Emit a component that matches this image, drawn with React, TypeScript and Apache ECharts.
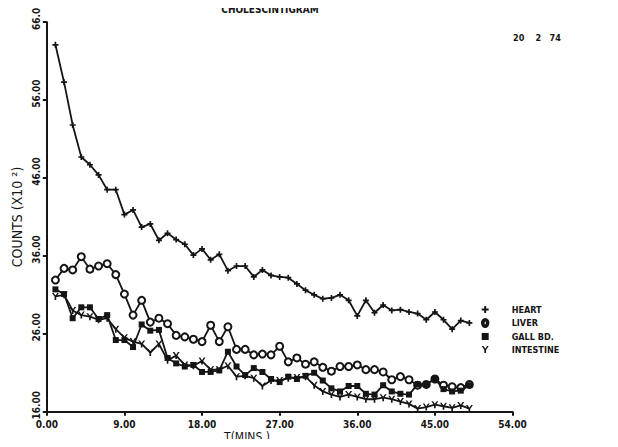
import React, { useEffect, useRef } from "react";
import * as echarts from "echarts";

const times = [1, 2, 3, 4, 5, 6, 7, 8, 9, 10, 11, 12, 13, 14, 15, 16, 17, 18, 19, 20, 21, 22, 23, 24, 25, 26, 27, 28, 29, 30, 31, 32, 33, 34, 35, 36, 37, 38, 39, 40, 41, 42, 43, 44, 45, 46, 47, 48, 49];

const heart = [63.1, 58.3, 52.8, 48.7, 47.7, 46.4, 44.5, 44.5, 41.3, 41.9, 39.7, 40.1, 38.0, 38.9, 38.1, 37.5, 36.1, 36.9, 35.5, 36.2, 34.1, 34.7, 34.7, 33.3, 34.2, 33.5, 33.3, 33.2, 32.4, 31.6, 31.0, 30.5, 30.6, 31.0, 30.3, 28.3, 30.3, 28.7, 29.7, 29.0, 29.1, 28.8, 28.6, 27.8, 28.8, 27.8, 26.6, 27.7, 27.4];

const liver = [32.9, 34.4, 34.2, 35.9, 34.3, 34.7, 35.0, 33.6, 31.1, 28.4, 30.3, 27.5, 28.0, 27.3, 25.8, 25.6, 25.3, 25.0, 27.1, 25.0, 26.9, 24.0, 24.0, 23.3, 23.4, 23.3, 24.4, 22.4, 22.9, 22.1, 22.4, 21.7, 21.2, 21.8, 21.8, 22.0, 21.4, 21.4, 21.1, 20.1, 20.5, 20.1, 19.4, 19.5, 20.2, 19.4, 19.2, 19.1, 19.5];

const gall = [31.7, 31.1, 28.0, 29.4, 29.4, 27.9, 28.4, 25.2, 25.2, 24.3, 27.2, 26.4, 26.5, 22.9, 22.2, 21.8, 22.0, 21.1, 21.1, 21.3, 23.7, 21.8, 20.7, 21.6, 21.1, 20.2, 19.8, 20.5, 20.2, 20.6, 21.0, 20.0, 19.0, 18.6, 19.3, 19.3, 18.3, 18.2, 19.4, 18.6, 18.3, 18.2, 19.5, 19.5, 20.2, 18.9, 18.6, 18.7, 19.4];

const intestine = [30.8, 31.0, 29.0, 28.4, 28.2, 27.8, 28.0, 26.6, 25.5, 25.0, 24.7, 23.6, 24.7, 22.6, 23.2, 22.0, 21.9, 22.5, 21.4, 21.4, 21.9, 20.5, 20.6, 20.3, 19.3, 20.0, 20.0, 20.3, 20.4, 20.5, 19.4, 18.6, 18.2, 17.9, 18.2, 17.9, 17.6, 17.6, 17.8, 17.6, 17.3, 17.0, 16.4, 16.6, 16.9, 16.7, 16.5, 16.8, 16.4];

const seriesNames = ["HEART", "LIVER", "GALL BD.", "INTESTINE"];
const yTicks = { min: 16, max: 66, step: 10 };
const xTicks = { min: 0, max: 54, step: 9 };

const INK = "#151515";
const FONT = "'Liberation Sans Narrow', 'DejaVu Sans Condensed', 'Liberation Sans', sans-serif";

const PLUS = "path://M3.6,0 H6.4 V3.6 H10 V6.4 H6.4 V10 H3.6 V6.4 H0 V3.6 H3.6 Z";
const YSYM = "path://M0,0 L2.4,0 L5,3.8 L7.6,0 L10,0 L6.2,5.6 L6.2,10 L3.8,10 L3.8,5.6 Z";
const OSYM = "path://M4,0 A4,5 0 1,1 4,10 A4,5 0 1,1 4,0 Z M4,2 A2,3 0 1,0 4,8 A2,3 0 1,0 4,2 Z";
const SQ = "path://M0,0 H10 V10 H0 Z";

export default function App() {
  const ref = useRef<HTMLDivElement>(null);
  useEffect(() => {
    if (!ref.current) return;
    const chart = echarts.init(ref.current, undefined, { renderer: "svg" });
    const pairs = (vals: number[]) => times.map((t, i) => [t, vals[i]]);
    const lineStyle = { color: INK, width: 1.8 };
    const base = { type: "line", lineStyle, itemStyle: { color: INK }, z: 3 };
    chart.setOption({
      animation: false,
      backgroundColor: "#ffffff",
      textStyle: { fontFamily: FONT, color: INK },
      grid: { left: 46.8, right: 105.5, top: 22.2, bottom: 35.3, containLabel: false, outerBoundsMode: "none" },
      xAxis: {
        type: "value",
        min: xTicks.min,
        max: xTicks.max,
        interval: xTicks.step,
        axisLine: { show: true, lineStyle: { color: INK, width: 2 } },
        axisTick: { show: true, length: 4, lineStyle: { color: INK, width: 2 } },
        splitLine: { show: false },
        axisLabel: {
          formatter: (v: number) => v.toFixed(2),
          fontSize: 10,
          fontWeight: "bold",
          fontFamily: FONT,
          color: INK,
          margin: 8,
          showMinLabel: true,
          showMaxLabel: true,
        },
      },
      yAxis: {
        type: "value",
        min: yTicks.min,
        max: yTicks.max,
        interval: yTicks.step,
        axisLine: { show: true, lineStyle: { color: INK, width: 2 } },
        axisTick: { show: true, length: 4, lineStyle: { color: INK, width: 2 } },
        splitLine: { show: false },
        axisLabel: {
          formatter: (v: number) => v.toFixed(2),
          rotate: 90,
          fontSize: 10,
          fontWeight: "bold",
          fontFamily: FONT,
          color: INK,
          margin: 5,
          align: "center",
          padding: [0, 0, 0, 13],
          showMinLabel: true,
          showMaxLabel: true,
        },
        name: "COUNTS (X10 \u00B2)",
        nameLocation: "middle",
        nameRotate: 90,
        nameGap: 22,
        nameTextStyle: {
          fontSize: 14,
          fontFamily: FONT,
          color: INK,
        },
      },
      legend: {
        orient: "vertical",
        left: 476,
        top: 300,
        itemGap: 4,
        itemWidth: 7,
        itemHeight: 8,
        selectedMode: false,
        textStyle: { fontSize: 9, fontWeight: "bold", fontFamily: FONT, color: INK, padding: [0, 0, 0, 18] },
        data: [
          { name: seriesNames[0], icon: PLUS },
          { name: seriesNames[1], icon: OSYM },
          { name: seriesNames[2], icon: SQ },
          { name: seriesNames[3], icon: YSYM },
        ],
      },
      series: [
        { ...base, name: seriesNames[0], data: pairs(heart), symbol: PLUS, symbolSize: 6 },
        {
          ...base,
          name: seriesNames[1],
          data: pairs(liver),
          symbol: "emptyCircle",
          symbolSize: 7,
          itemStyle: { color: INK, borderColor: INK, borderWidth: 1.6 },
        },
        { ...base, name: seriesNames[2], data: pairs(gall), symbol: "rect", symbolSize: 6 },
        { ...base, name: seriesNames[3], data: pairs(intestine), symbol: YSYM, symbolSize: 7 },
      ],
      graphic: [
        {
          type: "text",
          x: 270,
          y: 4,
          style: {
            text: "CHOLESCINTIGRAM",
            fontSize: 10,
            fontWeight: "bold",
            fontFamily: FONT,
            fill: INK,
            align: "center",
            verticalAlign: "top",
            textAlign: "center",
            textVerticalAlign: "top",
          },
        },
        {
          type: "text",
          x: 513,
          y: 38,
          style: { text: "20    2   74", fontSize: 9, fontWeight: "bold", fontFamily: FONT, fill: INK, verticalAlign: "middle", textVerticalAlign: "middle" },
        },
        {
          type: "text",
          x: 247,
          y: 437,
          style: {
            text: "T(MINS.)",
            fontSize: 12,
            fontFamily: FONT,
            fill: INK,
            align: "center",
            verticalAlign: "middle",
            textAlign: "center",
            textVerticalAlign: "middle",
          },
        },
      ],
    });
    return () => chart.dispose();
  }, []);
  return <div ref={ref} style={{ width: 618, height: 447, margin: -8 }} />;
}
